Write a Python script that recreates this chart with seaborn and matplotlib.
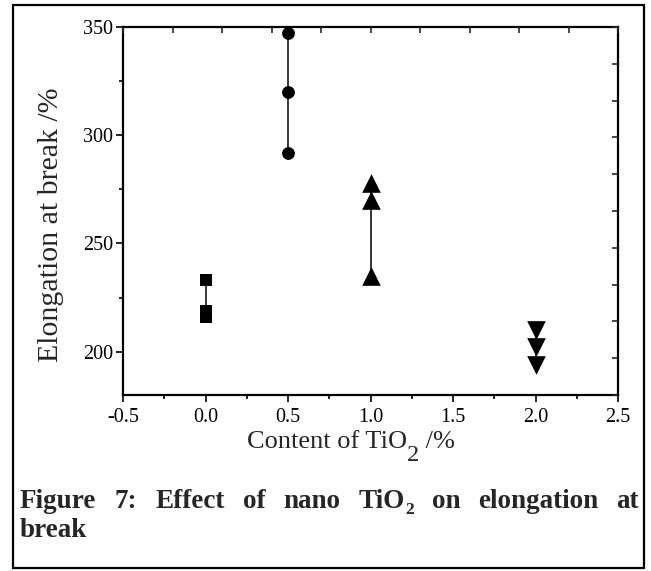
import matplotlib
matplotlib.use('Agg')
import matplotlib.pyplot as plt
from matplotlib.ticker import MultipleLocator
from matplotlib.patches import Rectangle
import pandas as pd
import seaborn as sns

# TiO2 content (%) and the three elongation readings (%) at each content
content = [0.0, 0.5, 1.0, 2.0]
elong_00 = [233, 219, 216]
elong_05 = [347, 320, 292]
elong_10 = [278, 270, 235]
elong_20 = [210, 202, 194]
marker_kind = ['s', 'o', '^', 'v']
marker_area = [80, 85, 180, 180]

xticks = [-0.5, 0.0, 0.5, 1.0, 1.5, 2.0, 2.5]
xticklabels = ['-0.5', '0.0', '0.5', '1.0', '1.5', '2.0', '2.5']
yticks = [200, 250, 300, 350]

W, H = 651, 571

sns.set_style('ticks')
plt.rcParams['font.family'] = ['Liberation Serif', 'DejaVu Serif']

rows = []
for c, vals in zip(content, [elong_00, elong_05, elong_10, elong_20]):
    for v in vals:
        rows.append({'content': c, 'elong': v, 'group': str(c)})
df = pd.DataFrame(rows)

fig = plt.figure(figsize=(W / 100, H / 100), dpi=100)
ax = fig.add_axes([123 / W, 1 - 395 / H, 495 / W, 368 / H])

sns.lineplot(data=df, x='content', y='elong', units='group', estimator=None,
             sort=False, color='black', lw=1.1, ax=ax, legend=False)
for c, m, s in zip(content, marker_kind, marker_area):
    sns.scatterplot(data=df[df['group'] == str(c)], x='content', y='elong',
                    marker=m, s=s, color='black', edgecolor='black',
                    linewidth=0, ax=ax, zorder=3, legend=False)

ax.set_xlim(-0.5, 2.5)
ax.set_ylim(180, 350)
ax.set_xticks(xticks, xticklabels)
ax.set_yticks(yticks)
ax.xaxis.set_minor_locator(MultipleLocator(0.25))
ax.yaxis.set_minor_locator(MultipleLocator(25))
ax.set_xlabel('')
ax.set_ylabel('')
ax.tick_params(which='both', top=False, right=False, direction='out',
               width=1.2, colors='black', labelsize=14.5)
ax.tick_params(which='major', length=5)
ax.tick_params(which='minor', length=3)
ax.tick_params(axis='x', pad=4)
ax.tick_params(axis='y', pad=2)
for sp in ax.spines.values():
    sp.set_linewidth(1.6)
    sp.set_color('black')

# Origin-style top and right axes: ten inward ticks, no labels
top = ax.twiny()
top.set_xlim(0, 10)
top.set_xticks(range(11))
top.tick_params(axis='x', direction='in', length=4.5, width=1.2,
                labeltop=False, top=True, bottom=False)
right = ax.twinx()
right.set_ylim(0, 10)
right.set_yticks(range(11))
right.tick_params(axis='y', direction='in', length=4.5, width=1.2,
                  labelright=False, right=True, left=False)
for extra in (top, right):
    for sp in extra.spines.values():
        sp.set_visible(False)

renderer = fig.canvas.get_renderer()


def put_runs(x0, baseline, runs, **kw):
    """Write a row of text pieces (text, size, drop in px) starting at x0."""
    x = x0
    made = []
    for txt, size, drop in runs:
        t = fig.text(x / W, 1 - (baseline + drop) / H, txt, fontsize=size,
                     ha='left', va='baseline', **kw)
        made.append(t)
        x += t.get_window_extent(renderer).width
    return made, x - x0


# axis titles
put_runs(247, 448, [('Content of TiO', 19, 0), ('2', 17.5, 13), (' /%', 19, 0)])
fig.text(51 / W, 1 - 225 / H, 'Elongation at break /%', fontsize=21.5,
         rotation=90, ha='center', va='center')

# caption, justified between the frame margins
cs = 19.5
cap_words = [[('Figure', cs, 0)], [('7:', cs, 0)], [('Effect', cs, 0)],
             [('of', cs, 0)], [('nano', cs, 0)],
             [('TiO', cs, 0), ('2', 12.5, 6)], [('on', cs, 0)],
             [('elongation', cs, 0)], [('at', cs, 0)]]
left, right_edge, base1 = 20, 639, 508
widths = []
pieces = []
for word in cap_words:
    made, w = put_runs(0, base1, word, fontweight='bold')
    pieces.append(made)
    widths.append(w)
gap = (right_edge - left - sum(widths)) / (len(cap_words) - 1)
x = left
for made, w in zip(pieces, widths):
    off = x
    for t in made:
        t.set_x(off / W)
        off += t.get_window_extent(renderer).width
    x += w + gap
put_runs(left, 537, [('break', cs, 0)], fontweight='bold')

# outer frame of the figure box
fig.patches.append(Rectangle((12.5 / W, 1 - 568 / H), 631 / W, 563 / H,
                             transform=fig.transFigure, fill=False,
                             edgecolor='black', lw=1.6))

fig.savefig('out.png', dpi=100)
